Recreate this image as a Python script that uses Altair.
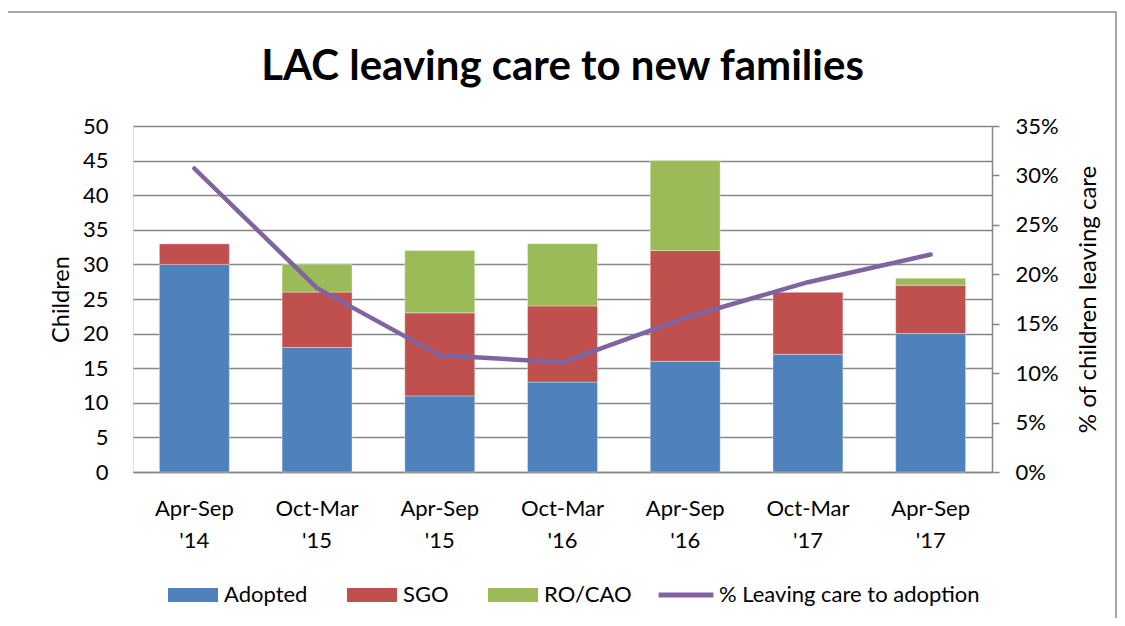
import altair as alt
import pandas as pd

categories = ["Apr-Sep '14", "Oct-Mar '15", "Apr-Sep '15", "Oct-Mar '16",
              "Apr-Sep '16", "Oct-Mar '17", "Apr-Sep '17"]
adopted = [30, 18, 11, 13, 16, 17, 20]
sgo = [3, 8, 12, 11, 16, 9, 7]
ro_cao = [0, 4, 9, 9, 13, 0, 1]
pct_adoption = [0.307, 0.186, 0.118, 0.111, 0.156, 0.192, 0.220]

series_names = ["Adopted", "SGO", "RO/CAO"]
series_colors = ["#4F81BD", "#C0504D", "#9BBB59"]
line_name = "% Leaving care to adoption"
line_color = "#8064A2"

rows = []
for i, c in enumerate(categories):
    for k, (name, vals) in enumerate(zip(series_names, [adopted, sgo, ro_cao])):
        rows.append({"period": c, "type": name, "order": k, "value": vals[i]})
bars_df = pd.DataFrame(rows)
line_df = pd.DataFrame({"period": categories, "pct": pct_adoption,
                        "series": [line_name] * len(categories)})

FONT = "Lato"
GRID = "#868686"

x_enc = alt.X(
    "period:N", sort=categories, title=None,
    scale=alt.Scale(paddingInner=0.43, paddingOuter=0.215),
    axis=alt.Axis(labelExpr="split(datum.label, ' ')", labelAngle=0,
                  labelFont=FONT, labelFontSize=22, labelColor="#000",
                  labelPadding=26, labelLineHeight=32, ticks=False,
                  domainColor=GRID, domainWidth=1.5, grid=False),
)

bars = alt.Chart(bars_df).mark_bar(stroke="white", strokeWidth=0.6, strokeOpacity=0.6).encode(
    x=x_enc,
    y=alt.Y("value:Q", stack="zero", title="Children",
            scale=alt.Scale(domain=[0, 50]),
            axis=alt.Axis(orient="left", values=list(range(0, 51, 5)),
                          labelFont=FONT, labelFontSize=22, labelColor="#000",
                          labelPadding=25, ticks=False, domain=False,
                          grid=True, gridColor=GRID, gridWidth=1.5,
                          titleFont=FONT, titleFontSize=23.5, titleFontWeight="normal",
                          titleColor="#000", titleAngle=-90, titleBaseline="alphabetic",
                          titleX=-65, titleY=173)),
    fill=alt.Fill("type:N", sort=series_names,
                  scale=alt.Scale(domain=series_names, range=series_colors),
                  legend=alt.Legend(orient="none", legendX=35, legendY=444,
                                    direction="horizontal", title=None,
                                    symbolType="M-1,-0.28H1V0.28H-1Z", symbolSize=2500,
                                    symbolStrokeWidth=0, labelFont=FONT,
                                    labelFontSize=22, labelColor="#000",
                                    labelOffset=6, columnPadding=39, padding=0,
                                    labelLimit=400)),
    order=alt.Order("order:Q"),
)

line = alt.Chart(line_df).mark_line(strokeWidth=4.5, strokeCap="round", strokeJoin="round").encode(
    x=alt.X("period:N", sort=categories),
    y=alt.Y("pct:Q", title="% of children leaving care",
            scale=alt.Scale(domain=[0, 0.35]),
            axis=alt.Axis(orient="right", format=".0%",
                          values=[0, 0.05, 0.1, 0.15, 0.2, 0.25, 0.3, 0.35],
                          labelFont=FONT, labelFontSize=22, labelColor="#000",
                          labelPadding=16, ticks=True, tickSize=7, tickColor=GRID,
                          tickWidth=1.5, domain=True, domainColor=GRID, domainWidth=1.5,
                          grid=False,
                          titleFont=FONT, titleFontSize=24, titleFontWeight="normal",
                          titleColor="#000", titleAngle=-90, titleBaseline="alphabetic",
                          titleX=103, titleY=173)),
    stroke=alt.Stroke("series:N",
                      scale=alt.Scale(domain=[line_name], range=[line_color]),
                      legend=alt.Legend(orient="none", legendX=523, legendY=439,
                                        title=None, symbolType="stroke", symbolSize=3000,
                                        symbolStrokeWidth=5, labelFont=FONT,
                                        labelFontSize=22, labelColor="#000",
                                        labelOffset=3, padding=0, labelLimit=400)),
)

border = alt.Chart(pd.DataFrame({"a": [0]})).mark_rect(
    fill=None, stroke="#8a8a8a", strokeWidth=1.5).encode(
    x=alt.value(-126), x2=alt.value(983), y=alt.value(-114), y2=alt.value(520))

chart = alt.layer(border, bars, line).resolve_scale(
    y="independent", fill="independent", stroke="independent"
).properties(
    width=859, height=346,
    autosize=alt.AutoSizeParams(type="none"),
    padding={"left": 125, "top": 118, "right": 125, "bottom": 146},
    title=alt.TitleParams("LAC leaving care to new families", font=FONT,
                          fontSize=42, fontWeight="bold", color="#000",
                          anchor="middle", offset=0, dy=78),
).configure_view(stroke=None).configure(background="white")

chart.save("out.html", embed_options={"renderer": "svg", "actions": False})
